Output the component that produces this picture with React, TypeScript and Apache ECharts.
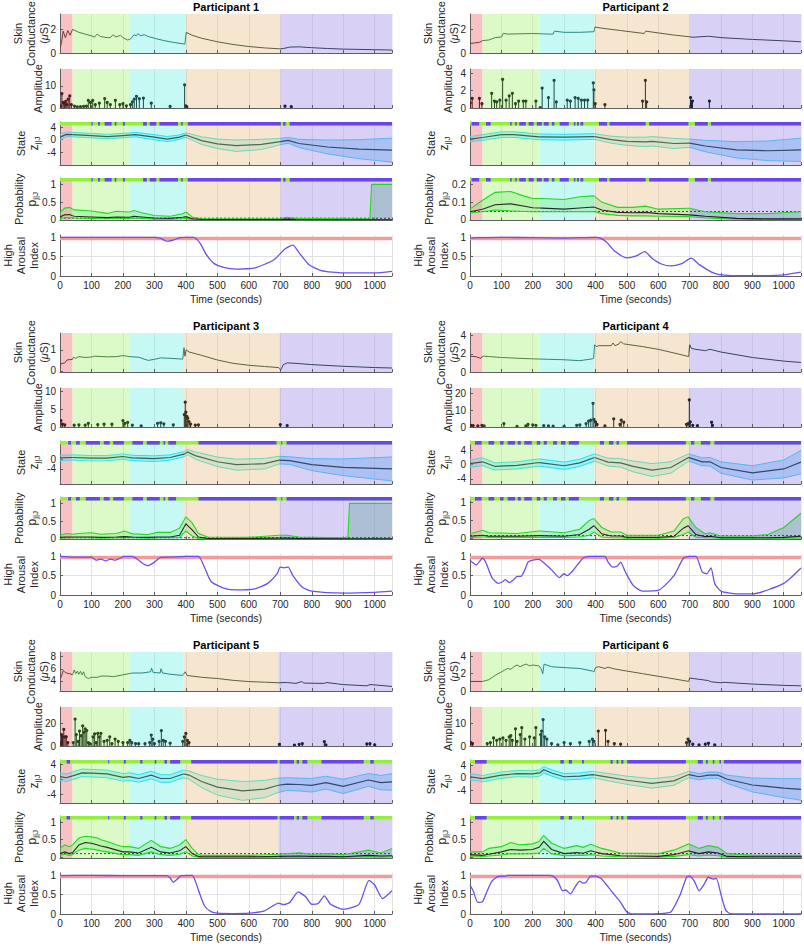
import { useEffect, useRef } from 'react';
import * as echarts from 'echarts';

// ---------------- shared ----------------
const X_MAX = 1055;
const X_LABELS = [0, 100, 200, 300, 400, 500, 600, 700, 800, 900, 1000];
const HAI_AXIS = [0, 1.06];
const HAI_TICKS = [0, 0.5, 1];
const HAI_REF = 0.97;

// ---------------- Participant 1 ----------------
const p1Phases = [40, 220, 400, 700];
const p1ScAxis = [0, 3.3];
const p1ScTicks = [0, 2];
const p1AmpAxis = [0, 17.7];
const p1AmpTicks = [0, 10];
const p1StateAxis = [-8, 5.6];
const p1StateTicks = [-6, -4, 0, 4];
const p1ProbAxis = [-0.02, 1.18];
const p1ProbTicks = [0, 0.5, 1];
const p1SC = [[0,0.4],[5,0.9],[10,1.85],[17,1.3],[25,1.9],[32,1.5],[40,2.0],[60,1.75],[80,1.6],[100,1.45],[110,1.35],[118,1.6],[128,1.4],[150,1.3],[160,1.3],[168,1.55],[178,1.35],[192,1.5],[200,1.3],[215,1.1],[225,1.2],[235,1.55],[242,1.45],[248,1.65],[255,1.45],[268,1.55],[280,1.4],[300,1.25],[330,1.05],[360,0.9],[397,0.75],[401,1.75],[420,1.5],[450,1.25],[500,0.95],[550,0.72],[600,0.55],[650,0.43],[700,0.35],[710,0.38],[730,0.5],[760,0.52],[800,0.45],[850,0.38],[900,0.33],[1000,0.28],[1055,0.25]];
const p1Amp = [[2,1.0],[6,6.5],[10,2.5],[14,2.0],[18,3.0],[22,1.5],[26,4.0],[31,5.5],[36,1.5],[46,0.8],[55,0.5],[65,0.6],[75,0.7],[84,0.8],[90,3.5],[97,2.5],[104,3.5],[112,1.5],[125,2.2],[142,4.3],[150,2.5],[160,1.5],[176,3.5],[190,1.5],[200,2.0],[211,1.0],[224,1.5],[230,2.8],[236,4.0],[243,5.3],[252,4.2],[265,4.5],[290,2.2],[350,0.7],[396,10.5],[400,1.0],[403,0.5],[715,0.8],[735,0.6]];
const p1State = [[0,0.8,0.9],[20,1.7,0.7],[40,1.6,0.7],[100,1.3,0.7],[150,1.0,0.7],[200,1.3,0.7],[240,1.6,0.7],[300,0.8,0.8],[340,0.2,0.8],[380,0.8,0.7],[400,1.5,0.7],[450,-0.3,1.2],[500,-1.3,1.5],[560,-1.9,1.8],[640,-1.5,1.6],[700,-0.6,1.0],[725,-0.2,0.9],[760,-1.2,1.3],[850,-2.3,2.2],[950,-3.0,3.0],[1055,-3.3,3.8]];
const p1Bars = [[100,104],[121,127],[142,164],[174,179],[200,206],[264,276],[285,306],[316,375],[385,390],[406,702],[709,717],[730,1055]];
const p1Prob = [[0,0.03,0.08,0.2],[15,0.06,0.14,0.33],[30,0.06,0.15,0.35],[45,0.05,0.1,0.28],[100,0.04,0.08,0.25],[150,0.03,0.06,0.18],[180,0.04,0.08,0.24],[220,0.04,0.07,0.22],[235,0.05,0.1,0.26],[260,0.04,0.08,0.2],[300,0.02,0.05,0.12],[350,0.02,0.04,0.1],[390,0.03,0.07,0.17],[400,0.04,0.09,0.22],[420,0.01,0.03,0.08],[450,0.0,0.01,0.03],[700,0.0,0.01,0.03],[720,0.01,0.02,0.07],[750,0.0,0.01,0.04],[985,0.0,0.0,0.03],[990,0.0,0.0,1.0],[1055,0.0,0.0,1.0]];
const p1Base = 0.045;
const p1HAI = [[0,1.0],[300,1.0],[320,0.97],[340,0.9],[360,0.93],[380,0.99],[400,1.0],[425,1.0],[445,0.85],[465,0.55],[490,0.32],[520,0.22],[560,0.18],[620,0.21],[680,0.42],[715,0.7],[740,0.8],[760,0.6],[790,0.3],[830,0.14],[900,0.08],[1000,0.08],[1055,0.12]];

// ---------------- Participant 2 ----------------
const p2Phases = [40, 222, 397, 700];
const p2ScAxis = [0, 3.3];
const p2ScTicks = [0, 2];
const p2AmpAxis = [0, 4.5];
const p2AmpTicks = [0, 2, 4];
const p2StateAxis = [-8, 5.6];
const p2StateTicks = [0];
const p2ProbAxis = [-0.004, 0.236];
const p2ProbTicks = [0, 0.1, 0.2];
const p2SC = [[0,0.8],[15,0.85],[30,0.9],[40,1.05],[60,1.1],[80,1.3],[100,1.35],[106,1.66],[120,1.6],[150,1.62],[200,1.65],[250,1.6],[265,1.6],[269,1.85],[300,1.75],[350,1.75],[395,1.8],[398,2.2],[420,2.1],[480,1.9],[555,1.65],[560,1.85],[600,1.7],[650,1.52],[700,1.37],[710,1.33],[760,1.42],[800,1.3],[900,1.15],[1000,1.03],[1055,0.95]];
const p2Amp = [[1,0.6],[7,1.1],[30,1.1],[38,0.5],[69,1.7],[78,0.8],[85,0.7],[95,0.9],[104,3.3],[115,0.9],[125,1.4],[135,1.7],[145,0.5],[155,0.8],[170,0.8],[178,0.8],[210,0.8],[224,0.05],[230,2.3],[250,1.2],[268,3.2],[275,0.7],[310,0.9],[320,0.8],[335,1.2],[345,1.1],[355,0.9],[365,0.9],[375,0.9],[393,2.9],[395,2.1],[399,0.5],[430,0.4],[550,0.8],[559,3.2],[563,0.7],[703,1.2],[706,0.5],[709,0.8],[763,0.8]];
const p2State = [[0,0.2,0.8],[40,0.7,0.9],[100,1.6,0.9],[140,1.6,0.9],[220,0.9,0.9],[300,0.8,0.9],[350,0.9,0.9],[397,1.0,0.9],[450,0.0,1.1],[500,-0.5,1.3],[560,-0.7,1.5],[580,-0.5,1.5],[650,-1.2,1.6],[700,-1.1,1.3],[750,-2.0,1.8],[850,-3.2,2.6],[950,-3.5,3.1],[1055,-3.2,3.7]];
const p2Bars = [[5,29],[51,66],[128,133],[144,149],[157,178],[187,203],[213,229],[235,251],[261,269],[286,315],[331,336],[341,347],[352,361],[411,437],[445,560],[571,696],[717,758],[768,1055]];
const p2Prob = [[0,0.04,0.045,0.06],[40,0.045,0.06,0.11],[80,0.055,0.085,0.155],[130,0.05,0.09,0.16],[170,0.047,0.078,0.135],[200,0.045,0.068,0.12],[230,0.045,0.066,0.12],[300,0.045,0.06,0.115],[350,0.046,0.067,0.13],[395,0.047,0.072,0.135],[420,0.035,0.055,0.1],[470,0.025,0.042,0.07],[520,0.022,0.04,0.07],[560,0.022,0.042,0.077],[600,0.02,0.035,0.06],[700,0.018,0.028,0.065],[750,0.01,0.02,0.045],[850,0.003,0.008,0.035],[950,0.001,0.005,0.035],[1055,0.0,0.005,0.045]];
const p2Base = 0.047;
const p2HAI = [[0,0.98],[30,0.99],[100,1.0],[200,0.99],[300,0.98],[400,1.0],[415,0.98],[435,0.88],[460,0.65],[500,0.47],[530,0.52],[557,0.63],[580,0.46],[610,0.31],[640,0.26],[675,0.32],[705,0.46],[730,0.3],[770,0.1],[800,0.03],[850,0.01],[950,0.01],[1000,0.03],[1055,0.1]];

// ---------------- Participant 3 ----------------
const p3Phases = [40, 220, 394, 697];
const p3ScAxis = [-0.05, 1.8];
const p3ScTicks = [0, 1];
const p3AmpAxis = [0, 11];
const p3AmpTicks = [0, 5, 10];
const p3StateAxis = [-10.3, 7.7];
const p3StateTicks = [-8, -4, 0, 4];
const p3ProbAxis = [-0.02, 1.18];
const p3ProbTicks = [0, 0.5, 1];
const p3SC = [[0,0.15],[3,0.35],[15,0.38],[22,0.52],[40,0.55],[42,0.65],[50,0.6],[60,0.68],[80,0.64],[100,0.66],[110,0.7],[150,0.67],[180,0.68],[200,0.73],[220,0.68],[250,0.65],[280,0.5],[300,0.55],[320,0.62],[350,0.6],[390,0.56],[394,1.1],[397,0.7],[401,1.0],[410,0.9],[450,0.74],[500,0.52],[550,0.36],[600,0.27],[650,0.21],[695,0.16],[701,0.05],[710,0.3],[722,0.38],[750,0.36],[800,0.3],[900,0.22],[1000,0.16],[1055,0.14]];
const p3Amp = [[3,1.8],[8,0.8],[15,0.6],[45,0.5],[60,0.6],[80,0.5],[90,1.0],[120,0.7],[140,0.8],[165,0.8],[200,1.8],[206,1.0],[215,1.3],[230,0.5],[258,0.3],[310,1.0],[320,1.2],[330,0.9],[360,0.6],[395,3.5],[398,7.0],[400,4.2],[403,3.0],[406,2.5],[410,1.5],[415,0.8],[430,0.5],[440,0.6],[700,0.7],[722,0.4]];
const p3State = [[0,0.6,1.1],[40,0.8,1.1],[100,0.5,1.1],[150,0.5,1.1],[200,1.2,1.1],[230,0.6,1.1],[300,0.3,1.2],[350,0.8,1.1],[394,2.2,1.1],[405,3.1,1.1],[430,1.6,1.5],[500,-1.0,2.0],[560,-2.2,2.3],[650,-1.8,2.2],[697,-0.3,1.6],[730,-0.5,1.6],[800,-2.2,2.5],[900,-3.3,3.5],[1055,-4.0,5.0]];
const p3Bars = [[26,35],[51,63],[82,127],[139,158],[169,203],[230,264],[276,317],[329,334],[344,369],[440,688],[703,706],[720,1055]];
const p3Prob = [[0,0.02,0.04,0.1],[20,0.03,0.05,0.15],[40,0.03,0.05,0.13],[60,0.03,0.05,0.15],[100,0.03,0.05,0.17],[130,0.02,0.04,0.13],[180,0.03,0.05,0.15],[205,0.04,0.06,0.22],[230,0.03,0.05,0.14],[280,0.02,0.04,0.12],[310,0.03,0.05,0.18],[350,0.03,0.05,0.18],[380,0.04,0.1,0.3],[400,0.22,0.42,0.62],[420,0.08,0.25,0.45],[440,0.01,0.05,0.15],[470,0.0,0.01,0.05],[600,0.0,0.01,0.04],[697,0.0,0.02,0.1],[720,0.0,0.02,0.1],[760,0.0,0.01,0.05],[900,0.0,0.0,0.03],[915,0.0,0.0,0.05],[920,0.0,0.0,1.0],[1055,0.0,0.0,1.0]];
const p3Base = 0.03;
const p3HAI = [[0,1.0],[40,0.98],[100,0.98],[115,0.9],[130,0.93],[145,0.88],[160,0.93],[175,0.9],[190,0.95],[205,1.0],[230,1.0],[250,0.9],[265,0.8],[280,0.76],[300,0.85],[320,0.97],[350,0.98],[400,1.0],[440,1.0],[460,0.7],[480,0.35],[520,0.18],[560,0.13],[620,0.16],[660,0.3],[690,0.55],[700,0.72],[712,0.7],[725,0.72],[740,0.5],[770,0.2],[800,0.1],[900,0.05],[1000,0.07],[1055,0.1]];

// ---------------- Participant 4 ----------------
const p4Phases = [40, 222, 397, 698];
const p4ScAxis = [0, 4.3];
const p4ScTicks = [0, 2, 4];
const p4AmpAxis = [0, 23];
const p4AmpTicks = [0, 10, 20];
const p4StateAxis = [-5.4, 6.6];
const p4StateTicks = [-4, 0, 4];
const p4ProbAxis = [-0.04, 1.16];
const p4ProbTicks = [0, 0.5, 1];
const p4SC = [[0,1.75],[20,1.68],[35,1.5],[40,1.75],[60,1.7],[100,1.6],[150,1.52],[200,1.45],[250,1.4],[300,1.35],[350,1.25],[390,1.45],[394,1.5],[397,3.0],[402,2.8],[410,2.9],[450,2.9],[456,3.2],[462,2.9],[475,3.1],[480,3.35],[490,3.1],[550,2.8],[600,2.5],[650,2.1],[697,1.7],[700,3.0],[706,2.6],[720,2.5],[750,2.35],[765,2.5],[800,2.2],[900,1.6],[1000,1.2],[1055,1.05]];
const p4Amp = [[3,1.0],[10,0.8],[25,0.7],[38,1.0],[45,0.6],[108,2.0],[150,0.4],[178,0.6],[185,1.5],[200,1.2],[210,1.0],[235,0.8],[250,0.6],[265,0.5],[300,0.4],[340,1.0],[350,1.2],[370,2.0],[378,3.5],[385,4.0],[392,14.0],[395,4.5],[400,3.0],[405,1.5],[430,0.6],[458,4.8],[478,1.5],[482,4.0],[490,2.8],[690,1.5],[695,2.0],[699,16.0],[702,3.0],[710,1.0],[725,0.8],[770,2.8],[773,1.0]];
const p4State = [[0,0.3,1.0],[40,0.8,1.1],[80,-0.5,1.0],[150,-0.2,1.0],[220,0.6,1.0],[300,-0.3,1.0],[350,0.5,1.0],[397,2.0,1.0],[440,0.7,1.1],[480,0.5,1.2],[520,-0.5,1.5],[580,-1.5,1.8],[640,-0.8,1.6],[697,2.0,1.0],[740,0.8,1.1],[765,0.8,1.2],[800,-0.8,1.6],[900,-2.3,2.0],[1000,-1.2,2.5],[1055,0.7,3.3]];
const p4Bars = [[16,37],[59,77],[96,107],[120,144],[152,162],[173,197],[213,224],[235,245],[265,277],[290,304],[315,347],[414,427],[443,457],[467,475],[501,688],[704,715],[736,766],[779,1055]];
const p4Prob = [[0,0.02,0.05,0.12],[40,0.03,0.08,0.22],[60,0.02,0.05,0.15],[150,0.02,0.05,0.13],[220,0.02,0.07,0.2],[300,0.02,0.05,0.15],[350,0.03,0.1,0.25],[380,0.08,0.25,0.5],[395,0.17,0.35,0.55],[420,0.03,0.12,0.3],[450,0.01,0.06,0.17],[480,0.01,0.06,0.17],[500,0.0,0.02,0.08],[600,0.0,0.02,0.08],[650,0.02,0.05,0.2],[680,0.1,0.28,0.55],[695,0.17,0.35,0.6],[720,0.02,0.1,0.3],[750,0.01,0.04,0.12],[765,0.01,0.05,0.15],[800,0.0,0.01,0.06],[900,0.0,0.01,0.06],[950,0.0,0.01,0.1],[1000,0.0,0.02,0.3],[1055,0.0,0.05,0.7]];
const p4Base = 0.07;
const p4HAI = [[0,0.9],[20,0.78],[40,0.95],[50,0.85],[70,0.45],[90,0.3],[105,0.35],[112,0.4],[125,0.32],[140,0.4],[150,0.48],[162,0.48],[172,0.6],[185,0.85],[200,0.9],[220,0.92],[240,0.8],[260,0.65],[285,0.45],[300,0.55],[310,0.5],[330,0.65],[360,0.95],[380,1.0],[430,1.0],[440,0.85],[455,0.72],[470,0.75],[480,0.85],[495,0.6],[520,0.25],[550,0.1],[600,0.12],[650,0.5],[680,0.95],[700,1.0],[720,1.0],[740,0.6],[755,0.55],[768,0.7],[780,0.3],[800,0.1],[850,0.03],[900,0.03],[1000,0.3],[1055,0.7]];

// ---------------- Participant 5 ----------------
const p5Phases = [40, 220, 392, 694];
const p5ScAxis = [2.35, 8.75];
const p5ScTicks = [4, 6, 8];
const p5AmpAxis = [0, 34];
const p5AmpTicks = [0, 20];
const p5StateAxis = [-6.2, 5.2];
const p5StateTicks = [-4, 0, 4];
const p5ProbAxis = [-0.04, 1.18];
const p5ProbTicks = [0, 0.5, 1];
const p5SC = [[0,4.3],[5,4.8],[10,5.7],[15,5.5],[20,5.3],[30,5.2],[40,5.0],[45,5.8],[50,5.2],[55,5.6],[60,5.1],[65,5.6],[70,5.0],[75,5.5],[80,4.7],[90,4.4],[100,4.6],[120,4.6],[130,4.8],[150,4.8],[170,4.7],[200,5.0],[220,5.2],[230,5.3],[260,5.3],[288,5.5],[291,6.1],[296,5.4],[318,5.3],[321,6.0],[326,5.3],[350,5.1],[390,4.9],[398,5.5],[404,4.9],[450,4.6],[500,4.4],[550,4.1],[600,3.9],[650,3.8],[694,3.7],[720,3.75],[750,3.6],[768,3.9],[775,3.65],[840,3.6],[846,3.75],[900,3.4],[975,3.2],[985,3.4],[1000,3.35],[1055,3.1]];
const p5Amp = [[2,3],[5,10],[8,8],[12,14.5],[16,8],[20,8],[25,3],[42,3],[48,23.5],[52,10],[58,4],[62,13],[67,9],[72,17.5],[76,12],[80,15],[85,13.5],[90,3],[95,2],[105,8],[110,10.5],[115,3],[120,11],[125,8],[130,11],[140,4],[150,5],[158,8],[165,2],[175,6],[185,4],[200,3],[215,3],[222,5],[228,3],[240,2],[250,2],[270,2],[285,3],[290,9.5],[295,6],[300,2],[315,4],[322,13.5],[328,5],[335,4],[350,2.5],[390,4],[395,8],[400,11],[405,5],[410,3],[697,1.5],[745,0.8],[760,1.5],[770,2.0],[840,3.8],[845,1.0],[975,1.8],[985,2.0],[1000,1.0]];
const p5State = [[0,0.8,1.0],[20,0.5,1.0],[40,1.0,1.0],[70,1.8,1.0],[100,1.7,1.0],[150,1.5,1.0],[200,0.6,1.0],[220,0.8,1.0],[250,0.3,1.0],[290,1.2,1.0],[320,0.3,1.0],[350,0.3,1.0],[392,1.5,1.0],[410,1.2,1.1],[450,-0.5,1.6],[500,-2.0,2.1],[580,-3.0,2.5],[650,-2.5,2.3],[694,-1.5,1.9],[720,-1.2,1.7],[760,-1.3,1.7],[800,-1.5,1.8],[845,-0.8,1.7],[900,-1.8,1.9],[980,-0.1,1.7],[1020,-0.8,1.9],[1055,-0.6,2.2]];
const p5Bars = [[21,32],[153,156],[203,209],[255,262],[301,306],[332,340],[350,382],[417,691],[698,744],[752,760],[770,786],[831,965],[986,997]];
const p5Prob = [[0,0.05,0.1,0.25],[15,0.08,0.15,0.35],[30,0.05,0.1,0.3],[40,0.07,0.13,0.35],[60,0.2,0.35,0.55],[80,0.25,0.42,0.6],[100,0.23,0.4,0.58],[120,0.2,0.35,0.55],[130,0.18,0.32,0.5],[150,0.15,0.28,0.45],[180,0.1,0.2,0.35],[200,0.07,0.15,0.3],[220,0.07,0.15,0.3],[250,0.05,0.12,0.25],[290,0.15,0.28,0.48],[320,0.07,0.15,0.3],[350,0.05,0.12,0.25],[380,0.08,0.18,0.35],[400,0.15,0.3,0.5],[420,0.03,0.1,0.25],[440,0.0,0.02,0.08],[450,0.0,0.01,0.05],[600,0.0,0.01,0.05],[694,0.0,0.02,0.08],[760,0.0,0.03,0.12],[800,0.0,0.02,0.08],[850,0.0,0.02,0.1],[900,0.0,0.01,0.07],[980,0.01,0.05,0.2],[1020,0.0,0.03,0.12],[1055,0.01,0.04,0.25]];
const p5Base = 0.1;
const p5HAI = [[0,0.99],[100,1.0],[200,0.99],[340,0.99],[350,0.93],[360,0.82],[372,0.9],[385,0.99],[420,1.0],[430,0.85],[445,0.5],[460,0.2],[480,0.06],[500,0.02],[550,0.01],[600,0.02],[650,0.08],[695,0.28],[710,0.24],[730,0.3],[757,0.57],[780,0.45],[800,0.25],[820,0.27],[840,0.47],[860,0.25],[900,0.12],[950,0.25],[982,0.87],[1000,0.75],[1025,0.4],[1055,0.6]];

// ---------------- Participant 6 ----------------
const p6Phases = [40, 222, 397, 698];
const p6ScAxis = [0, 4.5];
const p6ScTicks = [0, 2, 4];
const p6AmpAxis = [0, 17];
const p6AmpTicks = [0, 10];
const p6StateAxis = [-8, 5.6];
const p6StateTicks = [-6, -4, 0, 4];
const p6ProbAxis = [-0.04, 1.18];
const p6ProbTicks = [0, 0.5, 1];
const p6SC = [[0,1.1],[40,1.1],[60,1.3],[80,1.8],[100,2.2],[110,2.4],[120,2.6],[130,2.5],[140,2.8],[150,3.0],[160,2.8],[170,3.0],[180,3.1],[190,2.9],[200,3.0],[220,2.9],[226,2.6],[232,2.0],[236,3.1],[260,2.8],[300,2.7],[350,2.6],[390,2.3],[395,2.2],[400,2.7],[410,2.8],[430,2.6],[440,2.75],[460,2.55],[500,2.3],[550,2.0],[600,1.7],[650,1.4],[697,1.1],[700,1.5],[720,1.4],[760,1.2],[770,1.05],[800,0.95],[810,1.0],[900,0.8],[1000,0.65],[1055,0.6]];
const p6Amp = [[3,1.5],[8,1.0],[55,1.0],[65,1.5],[75,3.5],[85,2.5],[95,3.0],[105,3.5],[115,2.5],[125,4.0],[130,4.5],[135,2.5],[145,7.5],[150,2.0],[160,5.0],[165,8.0],[175,3.0],[190,4.0],[205,3.5],[210,8.0],[225,5.0],[228,6.5],[233,11.5],[238,4.0],[245,3.0],[260,1.0],[280,0.5],[300,1.5],[320,1.0],[350,1.5],[380,2.0],[390,3.0],[395,2.0],[409,6.5],[432,6.8],[440,2.0],[460,1.0],[480,0.8],[690,1.5],[695,3.0],[700,2.0],[710,0.8],[730,0.5],[750,0.8],[760,1.2],[780,0.5]];
const p6State = [[0,0.3,1.0],[40,-0.3,1.0],[100,0.8,1.0],[150,1.3,1.0],[200,1.2,1.0],[222,1.5,1.0],[235,2.5,1.0],[260,1.5,1.0],[300,0.3,1.0],[350,0.5,1.0],[390,1.0,1.0],[420,0.5,1.1],[500,-0.8,1.3],[580,-1.8,1.5],[650,-1.0,1.4],[697,1.0,1.0],[730,0.3,1.0],[760,0.8,1.0],[790,0.8,1.0],[820,-0.5,1.3],[900,-2.3,2.2],[1000,-3.3,3.0],[1055,-3.7,3.4]];
const p6Bars = [[16,53],[288,299],[315,325],[357,363],[448,455],[467,473],[482,489],[501,688],[726,742],[752,758],[774,779],[795,800],[809,1055]];
const p6Prob = [[0,0.03,0.07,0.15],[40,0.02,0.05,0.15],[60,0.03,0.08,0.25],[100,0.06,0.15,0.3],[130,0.1,0.22,0.42],[160,0.09,0.2,0.35],[200,0.1,0.22,0.38],[220,0.12,0.28,0.45],[235,0.25,0.45,0.62],[260,0.1,0.22,0.4],[300,0.04,0.1,0.25],[340,0.05,0.13,0.33],[360,0.05,0.11,0.28],[385,0.07,0.18,0.37],[420,0.03,0.1,0.25],[480,0.01,0.04,0.12],[600,0.0,0.02,0.1],[650,0.02,0.07,0.2],[697,0.07,0.18,0.38],[730,0.03,0.1,0.25],[760,0.06,0.15,0.33],[790,0.04,0.12,0.28],[820,0.0,0.02,0.1],[900,0.0,0.01,0.05],[1055,0.0,0.01,0.05]];
const p6Base = 0.1;
const p6HAI = [[0,0.75],[10,0.6],[25,0.3],[40,0.32],[55,0.6],[70,0.85],[90,0.97],[110,0.98],[120,1.0],[250,1.0],[265,0.98],[280,0.85],[295,0.6],[305,0.62],[320,0.52],[335,0.7],[350,0.85],[360,0.8],[370,0.82],[385,0.98],[400,0.98],[420,0.9],[450,0.6],[480,0.3],[500,0.05],[520,0.0],[600,0.01],[640,0.05],[670,0.5],[690,0.95],[700,0.98],[715,0.85],[730,0.6],[745,0.75],[760,0.95],[775,0.9],[785,0.92],[800,0.5],[815,0.1],[830,0.01],[900,0.0],[1055,0.0]];

const PARTS = [
  { title: 'Participant 1', phases: p1Phases, sc: p1SC, amp: p1Amp, state: p1State, bars: p1Bars, prob: p1Prob, base: p1Base, hai: p1HAI, scAxis: p1ScAxis, scTicks: p1ScTicks, ampAxis: p1AmpAxis, ampTicks: p1AmpTicks, stateAxis: p1StateAxis, stateTicks: p1StateTicks, probAxis: p1ProbAxis, probTicks: p1ProbTicks },
  { title: 'Participant 2', phases: p2Phases, sc: p2SC, amp: p2Amp, state: p2State, bars: p2Bars, prob: p2Prob, base: p2Base, hai: p2HAI, scAxis: p2ScAxis, scTicks: p2ScTicks, ampAxis: p2AmpAxis, ampTicks: p2AmpTicks, stateAxis: p2StateAxis, stateTicks: p2StateTicks, probAxis: p2ProbAxis, probTicks: p2ProbTicks },
  { title: 'Participant 3', phases: p3Phases, sc: p3SC, amp: p3Amp, state: p3State, bars: p3Bars, prob: p3Prob, base: p3Base, hai: p3HAI, scAxis: p3ScAxis, scTicks: p3ScTicks, ampAxis: p3AmpAxis, ampTicks: p3AmpTicks, stateAxis: p3StateAxis, stateTicks: p3StateTicks, probAxis: p3ProbAxis, probTicks: p3ProbTicks },
  { title: 'Participant 4', phases: p4Phases, sc: p4SC, amp: p4Amp, state: p4State, bars: p4Bars, prob: p4Prob, base: p4Base, hai: p4HAI, scAxis: p4ScAxis, scTicks: p4ScTicks, ampAxis: p4AmpAxis, ampTicks: p4AmpTicks, stateAxis: p4StateAxis, stateTicks: p4StateTicks, probAxis: p4ProbAxis, probTicks: p4ProbTicks },
  { title: 'Participant 5', phases: p5Phases, sc: p5SC, amp: p5Amp, state: p5State, bars: p5Bars, prob: p5Prob, base: p5Base, hai: p5HAI, scAxis: p5ScAxis, scTicks: p5ScTicks, ampAxis: p5AmpAxis, ampTicks: p5AmpTicks, stateAxis: p5StateAxis, stateTicks: p5StateTicks, probAxis: p5ProbAxis, probTicks: p5ProbTicks },
  { title: 'Participant 6', phases: p6Phases, sc: p6SC, amp: p6Amp, state: p6State, bars: p6Bars, prob: p6Prob, base: p6Base, hai: p6HAI, scAxis: p6ScAxis, scTicks: p6ScTicks, ampAxis: p6AmpAxis, ampTicks: p6AmpTicks, stateAxis: p6StateAxis, stateTicks: p6StateTicks, probAxis: p6ProbAxis, probTicks: p6ProbTicks },
];

// ---------------- styling ----------------
const FONT = '"Liberation Sans", Arial, Helvetica, sans-serif';
const TXT = '#262626';
const AX = '#5f5f5f';
const PHASE_BG = ['#f8c1c3', '#dcf9c8', '#c6f8f4', '#f6e6cf', '#d9d1f5'];
const SC_LINE = ['#7a3a3a', '#4a8a3a', '#2a8a82', '#5a6240', '#3a4262'];
const STEM = ['#4a1e1e', '#2a4a1e', '#1e4a48', '#3a2e1e', '#1e2040'];
const STATE_MEAN = ['#5a4646', '#3c6446', '#2a6262', '#4a6a52', '#2c4a6a'];
const STATE_EDGE = ['#4cd6e4', '#40e4d4', '#24e2f2', '#6ed6b8', '#58b6f2'];
const STATE_FILL = ['rgba(110,210,225,0.35)', 'rgba(90,230,215,0.35)', 'rgba(60,225,240,0.3)', 'rgba(150,215,185,0.32)', 'rgba(100,165,240,0.38)'];
const PROB_EDGE = ['#22d822', '#22d822', '#22d822', '#22d822', '#22d822'];
const PROB_MID = ['#4a1a1a', '#1e321e', '#1a3030', '#2a2a1a', '#1a1a2a'];
const PROB_FILL = ['rgba(110,230,110,0.3)', 'rgba(110,230,110,0.3)', 'rgba(110,230,110,0.3)', 'rgba(120,220,120,0.28)', 'rgba(120,170,170,0.45)'];
const BAR_GREEN = '#95ef3e';
const BAR_PURPLE = '#6a45ec';
const HAI_COLOR = '#6b50ef';
const HAI_REF_COLOR = '#f39a9a';

const COL_LEFT = [60, 470];
const COL_W = [332, 331];
const ROW_TOP = [14, 333, 652];
const SUB = [[0, 39], [55, 39], [108, 43], [164, 42.5], [221, 41]];
const NAME_GAP = [10, 16, 19, 21, 20];

function seg(pts: number[][], a: number, b: number) {
  const out: number[][] = [];
  for (let i = 0; i < pts.length; i++) {
    const t = pts[i][0], v = pts[i][1];
    if (i > 0) {
      const t0 = pts[i - 1][0], v0 = pts[i - 1][1];
      if (t0 < a && t > a) out.push([a, v0 + ((v - v0) * (a - t0)) / (t - t0)]);
      if (t >= a && t <= b) out.push([t, v]);
      if (t0 < b && t > b) out.push([b, v0 + ((v - v0) * (b - t0)) / (t - t0)]);
    } else if (t >= a && t <= b) out.push([t, v]);
  }
  return out;
}

function phaseOf(t: number, bounds: number[]) {
  for (let k = 0; k < bounds.length - 1; k++) if (t < bounds[k + 1]) return k;
  return bounds.length - 2;
}

function bgSeries(gi: number, phaseData: number[][]) {
  return {
    type: 'custom', xAxisIndex: gi, yAxisIndex: gi, z: -1, silent: true, clip: true, data: phaseData,
    renderItem: (params: any, api: any) => {
      const cs = params.coordSys;
      const x0 = api.coord([api.value(0), 0])[0];
      const x1 = api.coord([api.value(1), 0])[0];
      return { type: 'rect', shape: { x: x0, y: cs.y, width: x1 - x0, height: cs.height }, style: { fill: PHASE_BG[api.value(2)] } };
    },
  };
}

function phasedLines(gi: number, phaseData: number[][], curves: any[], z: number) {
  return {
    type: 'custom', xAxisIndex: gi, yAxisIndex: gi, z, silent: true, clip: true, data: phaseData,
    renderItem: (params: any, api: any) => {
      const a = api.value(0), b = api.value(1), k = api.value(2);
      const children: any[] = [];
      curves.forEach((c) => {
        const s = seg(c.pts, a, b);
        if (s.length > 1) {
          children.push({ type: 'polyline', shape: { points: s.map((p) => api.coord(p)) }, style: { stroke: c.colors[k], lineWidth: c.width, fill: 'none' } });
        }
      });
      return { type: 'group', children };
    },
  };
}

function phasedBand(gi: number, phaseData: number[][], upper: number[][], lower: number[][], fills: string[], z: number) {
  return {
    type: 'custom', xAxisIndex: gi, yAxisIndex: gi, z, silent: true, clip: true, data: phaseData,
    renderItem: (params: any, api: any) => {
      const a = api.value(0), b = api.value(1), k = api.value(2);
      const u = seg(upper, a, b).map((p) => api.coord(p));
      const l = seg(lower, a, b).map((p) => api.coord(p)).reverse();
      if (u.length < 2) return { type: 'group', children: [] };
      return { type: 'polygon', shape: { points: u.concat(l) }, style: { fill: fills[k] } };
    },
  };
}

function stemSeries(gi: number, amp: number[][], bounds: number[]) {
  return {
    type: 'custom', xAxisIndex: gi, yAxisIndex: gi, z: 3, silent: true, clip: true, data: amp,
    renderItem: (params: any, api: any) => {
      const t = api.value(0), v = api.value(1);
      const p0 = api.coord([t, 0]);
      const p1 = api.coord([t, v]);
      const c = STEM[phaseOf(t, bounds)];
      return {
        type: 'group',
        children: [
          { type: 'line', shape: { x1: p0[0], y1: p0[1], x2: p1[0], y2: p1[1] }, style: { stroke: c, lineWidth: 1 } },
          { type: 'circle', shape: { cx: p1[0], cy: p1[1], r: 1.6 }, style: { fill: c } },
        ],
      };
    },
  };
}

function barSeries(gi: number, bars: number[][]) {
  const data = [[0, X_MAX, 0]].concat(bars.map((b) => [b[0], b[1], 1]));
  return {
    type: 'custom', xAxisIndex: gi, yAxisIndex: gi, z: 5, silent: true, clip: true, data,
    renderItem: (params: any, api: any) => {
      const cs = params.coordSys;
      const x0 = api.coord([api.value(0), 0])[0];
      const x1 = api.coord([api.value(1), 0])[0];
      return { type: 'rect', shape: { x: x0, y: cs.y, width: Math.max(x1 - x0, 1), height: 3.6 }, style: { fill: api.value(2) ? BAR_PURPLE : BAR_GREEN } };
    },
  };
}

function buildOption() {
  const grid: any[] = [], xAxis: any[] = [], yAxis: any[] = [], series: any[] = [], graphic: any[] = [];
  const nameStyle = {
    fontFamily: FONT, fontSize: 11, color: TXT, lineHeight: 13,
    rich: {
      i: { fontFamily: FONT, fontSize: 11, fontStyle: 'italic', color: TXT, lineHeight: 13 },
      v: { fontFamily: FONT, fontSize: 12, color: TXT, lineHeight: 14, verticalAlign: 'middle' },
      s: { fontFamily: FONT, fontSize: 8, color: TXT, lineHeight: 14, verticalAlign: 'bottom' },
    },
  };
  PARTS.forEach((P, p) => {
    const col = p % 2, row = (p - col) / 2;
    const left = COL_LEFT[col], width = COL_W[col], T = ROW_TOP[row];
    const bounds = [0, ...P.phases, X_MAX];
    const phaseData = bounds.slice(0, -1).map((a, k) => [a, bounds[k + 1], k]);
    graphic.push({ type: 'text', x: left + width / 2, y: T - 7.5, style: { text: P.title, fontFamily: FONT, fontSize: 11, fontWeight: 'bold', fill: '#000', align: 'center', verticalAlign: 'middle' } });
    const cfg = [
      { range: P.scAxis, ticks: P.scTicks, name: 'Skin\nConductance\n({i|μ}S)' },
      { range: P.ampAxis, ticks: P.ampTicks, name: 'Amplitude' },
      { range: P.stateAxis, ticks: P.stateTicks, name: 'State\n{v|z}{s|j|J}' },
      { range: P.probAxis, ticks: P.probTicks, name: 'Probability\n{v|p}{s|j|J}' },
      { range: HAI_AXIS, ticks: HAI_TICKS, name: 'High\nArousal\nIndex' },
    ];
    SUB.forEach((s, k) => {
      const gi = p * 5 + k;
      const hai = k === 4;
      grid.push({ left, top: T + s[0], width, height: s[1], outerBoundsMode: 'none' });
      xAxis.push({
        type: 'value', gridIndex: gi, min: 0, max: X_MAX, interval: 100,
        axisLine: { show: true, onZero: false, lineStyle: { color: AX, width: 1 } },
        axisTick: { show: true, inside: true, length: 3, lineStyle: { color: AX } },
        axisLabel: hai
          ? { show: true, customValues: X_LABELS, formatter: (v: number) => String(Math.round(v)), fontSize: 10, fontFamily: FONT, color: TXT, margin: 4 }
          : { show: false },
        splitLine: { show: true, lineStyle: { color: hai ? '#e2e2e2' : 'rgba(0,0,0,0.07)', width: 1 } },
        name: hai ? 'Time (seconds)' : '', nameLocation: 'middle', nameGap: 17,
        nameTextStyle: { fontFamily: FONT, fontSize: 10.5, color: TXT },
      });
      yAxis.push({
        type: 'value', gridIndex: gi, min: cfg[k].range[0], max: cfg[k].range[1],
        interval: hai ? 0.5 : undefined,
        axisLine: { show: true, onZero: false, lineStyle: { color: AX, width: 1 } },
        axisTick: { show: true, inside: true, length: 3, customValues: cfg[k].ticks, lineStyle: { color: AX } },
        axisLabel: { show: true, customValues: cfg[k].ticks, formatter: (v: number) => String(v), fontSize: 10, fontFamily: FONT, color: TXT, margin: 4 },
        splitLine: { show: hai, lineStyle: { color: '#e2e2e2', width: 1 } },
        name: cfg[k].name, nameLocation: 'middle', nameRotate: 90, nameGap: NAME_GAP[k], nameMoveOverlap: false,
        nameTextStyle: nameStyle,
      });
    });
    const g = p * 5;
    for (let k = 0; k < 4; k++) series.push(bgSeries(g + k, phaseData));
    series.push(phasedLines(g, phaseData, [{ pts: P.sc, colors: SC_LINE, width: 1 }], 3));
    series.push(stemSeries(g + 1, P.amp, bounds));
    const stU = P.state.map((r) => [r[0], r[1] + r[2]]);
    const stL = P.state.map((r) => [r[0], r[1] - r[2]]);
    const stM = P.state.map((r) => [r[0], r[1]]);
    series.push(phasedBand(g + 2, phaseData, stU, stL, STATE_FILL, 2));
    series.push(phasedLines(g + 2, phaseData, [
      { pts: stU, colors: STATE_EDGE, width: 1 },
      { pts: stL, colors: STATE_EDGE, width: 1 },
      { pts: stM, colors: STATE_MEAN, width: 1.2 },
    ], 3));
    series.push(barSeries(g + 2, P.bars));
    const pL = P.prob.map((r) => [r[0], r[1]]);
    const pM = P.prob.map((r) => [r[0], r[2]]);
    const pH = P.prob.map((r) => [r[0], r[3]]);
    series.push(phasedBand(g + 3, phaseData, pH, pL, PROB_FILL, 2));
    series.push({
      type: 'line', xAxisIndex: g + 3, yAxisIndex: g + 3, z: 3, silent: true, symbol: 'none',
      data: [[0, P.base], [X_MAX, P.base]],
      lineStyle: { color: '#333', width: 0.9, type: [2, 2] },
    });
    series.push(phasedLines(g + 3, phaseData, [
      { pts: pH, colors: PROB_EDGE, width: 1.1 },
      { pts: pL, colors: PROB_EDGE, width: 1.1 },
      { pts: pM, colors: PROB_MID, width: 1.1 },
    ], 4));
    series.push(barSeries(g + 3, P.bars));
    series.push({
      type: 'line', xAxisIndex: g + 4, yAxisIndex: g + 4, z: 2, silent: true, symbol: 'none',
      data: [[0, HAI_REF], [X_MAX, HAI_REF]],
      lineStyle: { color: HAI_REF_COLOR, width: 3.5 },
    });
    series.push({
      type: 'line', xAxisIndex: g + 4, yAxisIndex: g + 4, z: 3, silent: true, symbol: 'none', smooth: 0.2,
      data: P.hai, lineStyle: { color: HAI_COLOR, width: 1.3 },
    });
  });
  return { animation: false, backgroundColor: '#ffffff', textStyle: { fontFamily: FONT }, grid, xAxis, yAxis, series, graphic };
}

export default function App() {
  const ref = useRef<HTMLDivElement>(null);
  useEffect(() => {
    const chart = echarts.init(ref.current as HTMLDivElement, undefined, { renderer: 'svg' });
    chart.setOption(buildOption() as any);
    return () => chart.dispose();
  }, []);
  return <div ref={ref} style={{ position: 'fixed', left: 0, top: 0, width: 804, height: 946, background: '#fff' }} />;
}
